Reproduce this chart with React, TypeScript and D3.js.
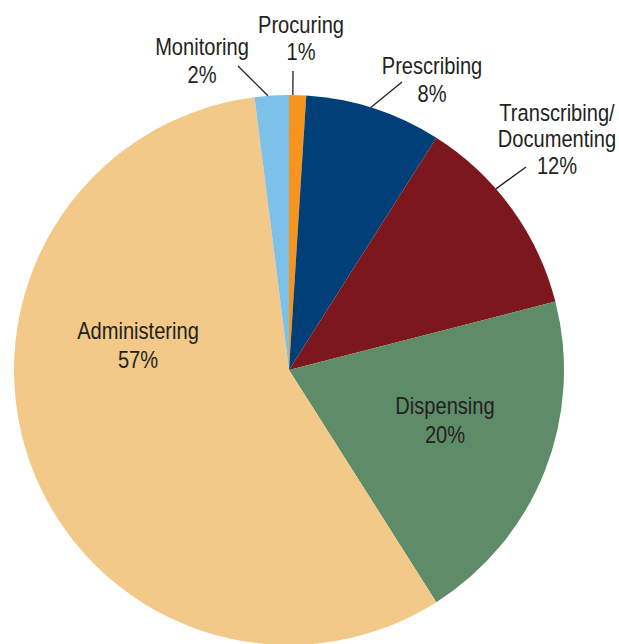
import React from "react";
import * as d3 from "d3";

const categories = ["Procuring", "Prescribing", "Transcribing/Documenting", "Dispensing", "Administering", "Monitoring"];
const values = [1, 8, 12, 20, 57, 2];
const labelLines = [["Procuring"], ["Prescribing"], ["Transcribing/", "Documenting"], ["Dispensing"], ["Administering"], ["Monitoring"]];
const colors = ["#F7941E", "#003F78", "#7C171D", "#5E8B68", "#F2C988", "#7DC0E8"];

const W = 619, H = 644;
const cx = 289, cy = 370, R = 275;

// label layout relative to the pie centre: x, first baseline, line height, optional leader line (angle deg on rim, end dx/dy)
const layout = [
  { x: 12, y: -337, lh: 27, line: { a: 0.8, ex: 4, ey: -299 } },
  { x: 143, y: -296, lh: 28, line: { a: 17.3, ex: 113, ey: -288 } },
  { x: 268, y: -249, lh: 26.5, line: { a: 48.8, ex: 237, ey: -203 } },
  { x: 156, y: 44, lh: 29, line: null },
  { x: -151, y: -31, lh: 29, line: null },
  { x: -87, y: -315, lh: 28, line: { a: -4.4, ex: -51, ey: -304 } },
];

export default function App() {
  const data = categories.map((c, i) => ({ c, v: values[i], i }));
  const pie = d3.pie<any>().value((d) => d.v).sort(null).startAngle(0).endAngle(2 * Math.PI);
  const arcs = pie(data);
  const arc = d3.arc<any>().innerRadius(0).outerRadius(R);
  const font = "'Liberation Sans', Arial, sans-serif";
  return (
    <svg width={W} height={H} style={{ position: "absolute", left: 0, top: 0, background: "#fff" }}>
      <g transform={`translate(${cx},${cy})`}>
        {arcs.map((a, i) => (
          <path key={i} d={arc(a) as string} fill={colors[i]} />
        ))}
        {arcs.map((a, i) => {
          const L = layout[i];
          const lines = [...labelLines[i], `${values[i]}%`];
          let ln = null;
          if (L.line) {
            const t = (L.line.a * Math.PI) / 180;
            ln = (
              <line x1={R * Math.sin(t)} y1={-R * Math.cos(t)} x2={L.line.ex} y2={L.line.ey} stroke="#231F20" strokeWidth={1.3} />
            );
          }
          return (
            <g key={"l" + i}>
              {ln}
              <text transform={`translate(${L.x},${L.y}) scale(0.82,1)`} textAnchor="middle" fontFamily={font} fontSize={24.5} fill="#231F20">
                {lines.map((s, k) => (
                  <tspan key={k} x={0} y={k * L.lh}>{s}</tspan>
                ))}
              </text>
            </g>
          );
        })}
      </g>
    </svg>
  );
}
